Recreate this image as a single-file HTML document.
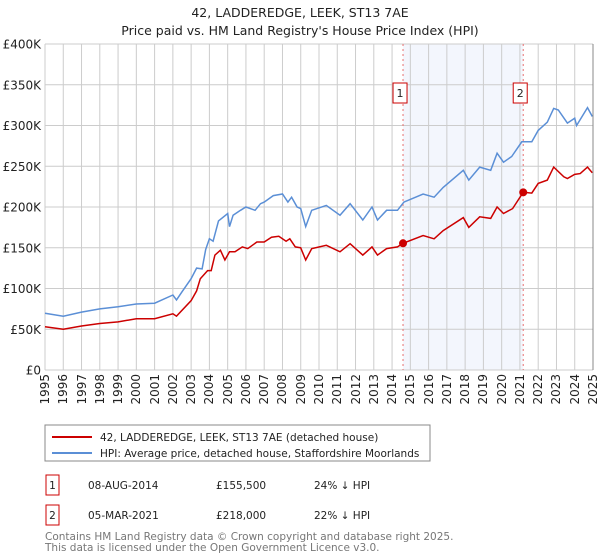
<!DOCTYPE html>
<html><head><meta charset="utf-8"><style>
body{margin:0;background:#fff;font-family:"DejaVu Sans","Liberation Sans",sans-serif;}
svg text{font-family:"DejaVu Sans","Liberation Sans",sans-serif;}
#wrap{position:relative;width:600px;height:560px;}
.xl{position:absolute;top:374px;width:14px;font-size:12px;line-height:14px;color:#222;writing-mode:vertical-rl;transform:rotate(180deg);white-space:nowrap;}
</style></head><body>
<div id="wrap">
<svg id="c" width="600" height="560" viewBox="0 0 600 560" xmlns="http://www.w3.org/2000/svg" style="position:absolute;left:0;top:0">
<text x="300" y="17" text-anchor="middle" font-size="12.5" fill="#222">42, LADDEREDGE, LEEK, ST13 7AE</text>
<text x="300" y="35" text-anchor="middle" font-size="12.5" fill="#222">Price paid vs. HM Land Registry's House Price Index (HPI)</text>
<g id="plot"></g>
<rect x="45" y="425" width="385" height="36" fill="#fff" stroke="#888"/>
<line x1="52" y1="437" x2="92" y2="437" stroke="#cc0000" stroke-width="2"/>
<text x="100" y="441" font-size="10.5" fill="#222">42, LADDEREDGE, LEEK, ST13 7AE (detached house)</text>
<line x1="52" y1="453" x2="92" y2="453" stroke="#5b8fd6" stroke-width="2"/>
<text x="100" y="457" font-size="10.5" fill="#222">HPI: Average price, detached house, Staffordshire Moorlands</text>
<rect x="46" y="475" width="13" height="20" fill="#fff" stroke="#cc0000"/>
<text x="52.5" y="489" text-anchor="middle" font-size="10.5" fill="#222">1</text>
<text x="88" y="489" font-size="10.5" fill="#222">08-AUG-2014</text>
<text x="216" y="489" font-size="10.5" fill="#222">£155,500</text>
<text x="314" y="489" font-size="10.5" fill="#222">24% ↓ HPI</text>
<rect x="46" y="505" width="13" height="20" fill="#fff" stroke="#cc0000"/>
<text x="52.5" y="519" text-anchor="middle" font-size="10.5" fill="#222">2</text>
<text x="88" y="519" font-size="10.5" fill="#222">05-MAR-2021</text>
<text x="216" y="519" font-size="10.5" fill="#222">£218,000</text>
<text x="314" y="519" font-size="10.5" fill="#222">22% ↓ HPI</text>
<text x="45" y="540" font-size="10.5" fill="#777">Contains HM Land Registry data © Crown copyright and database right 2025.</text>
<text x="45" y="551" font-size="10.5" fill="#777">This data is licensed under the Open Government Licence v3.0.</text>
</svg>
</div>
<script>
const yTicks=[0,50,100,150,200,250,300,350,400];
const yTickLabels=["£0","£50K","£100K","£150K","£200K","£250K","£300K","£350K","£400K"];
const xTicks=[1995,1996,1997,1998,1999,2000,2001,2002,2003,2004,2005,2006,2007,2008,2009,2010,2011,2012,2013,2014,2015,2016,2017,2018,2019,2020,2021,2022,2023,2024,2025];
const hpiYears=[1995,1996,1997,1998,1999,2000,2001,2002,2002.2,2002.5,2003,2003.3,2003.6,2003.8,2004,2004.2,2004.5,2005,2005.1,2005.3,2005.7,2006,2006.5,2006.8,2007,2007.5,2008,2008.3,2008.5,2008.8,2009,2009.27,2009.6,2010.4,2011.15,2011.7,2012.4,2012.9,2013.2,2013.7,2014.3,2014.65,2015.7,2016.3,2016.8,2017.9,2018.2,2018.8,2019.4,2019.75,2020.1,2020.55,2021.1,2021.65,2022,2022.5,2022.85,2023.1,2023.6,2024,2024.1,2024.7,2024.96];
const hpiValues=[69.6,66,71,75,77.7,81,82,92,86,96,112,125,124,148,161,158,183,192,176,190,196,200,196,204,206,214,216,206,212,200,198,176,196,202,190,204,184,200,184,196,196,206,216,212,224,245,233,249,245,266,255,262,280,280,294,304,321,319,303,309,300,322,311];
const ppYears=[1995,1996,1997,1998,1999,2000,2001,2002,2002.2,2003,2003.3,2003.5,2003.9,2004.1,2004.3,2004.6,2004.85,2005.1,2005.4,2005.8,2006.1,2006.6,2007,2007.4,2007.8,2008.2,2008.4,2008.7,2009,2009.27,2009.6,2010.4,2011.15,2011.7,2012.4,2012.9,2013.2,2013.7,2014.3,2014.6,2015.7,2016.3,2016.8,2017.9,2018.2,2018.8,2019.4,2019.75,2020.1,2020.6,2021.18,2021.65,2022,2022.5,2022.85,2023.4,2023.6,2024,2024.3,2024.7,2024.96];
const ppValues=[53,50,54,57,59,63,63,69,66,85,97,112,122,122,141,147,135,145,145,151,149,157,157,163,164,158,161,151,150,135,149,153,145,155,141,151,141,149,151,155.5,165,161,171,187,175,188,186,200,192,198,218,217,229,233,249,237,235,240,241,249,242];
const saleYears=[2014.6,2021.18];
const saleValues=[155.5,218];
const saleLabels=["1","2"];

const NS="http://www.w3.org/2000/svg";
const g=document.getElementById('plot');
const wrap=document.getElementById('wrap');
const X0=45,X1=593,Y0=370,Y1=44;
const sx=y=>X0+(y-1995)/(2025-1995)*(X1-X0);
const sy=v=>Y0-v/400*(Y0-Y1);
function mk(t,a,p){const e=document.createElementNS(NS,t);for(const k in a)e.setAttribute(k,a[k]);(p||g).appendChild(e);return e;}
const shade=mk('rect',{x:sx(saleYears[0]),y:Y1,width:sx(saleYears[1])-sx(saleYears[0]),height:Y0-Y1,fill:'#f3f6fd'});


xTicks.forEach(t=>{
 const l=mk('line',{x1:sx(t),x2:sx(t),y1:Y1,y2:Y0,stroke:'#ccc','stroke-width':1});
 
 
 const d=document.createElement('div');
 d.className='xl';
 d.style.left=(sx(t)-7)+'px';
 d.textContent=t;
 
 
 wrap.appendChild(d);
});
yTicks.forEach((t,i)=>{
 const l=mk('line',{x1:X0,x2:X1,y1:sy(t),y2:sy(t),stroke:'#ccc','stroke-width':1});
 
 
 const tx=mk('text',{x:41,y:sy(t)+4.5,'font-size':12,fill:'#222','text-anchor':'end'});
 tx.textContent=yTickLabels[i];
 
 
});
saleYears.forEach((y,i)=>{
 const l=mk('line',{x1:sx(y),x2:sx(y),y1:Y1,y2:Y0,stroke:'#e87070','stroke-dasharray':'2,3','stroke-width':1});
 
 
 const b=mk('rect',{x:sx(y)-10,y:83,width:14,height:20,fill:'#fff',stroke:'#cc0000'});
 
 
 const tx=mk('text',{x:sx(y)-3,y:97,'font-size':11,fill:'#222','text-anchor':'middle'});
 tx.textContent=saleLabels[i];
 
 
});
const hp=mk('path',{d:hpiYears.map((y,i)=>(i?'L':'M')+sx(y).toFixed(1)+','+sy(hpiValues[i]).toFixed(1)).join(''),fill:'none',stroke:'#5b8fd6','stroke-width':1.5});


const pp=mk('path',{d:ppYears.map((y,i)=>(i?'L':'M')+sx(y).toFixed(1)+','+sy(ppValues[i]).toFixed(1)).join(''),fill:'none',stroke:'#cc0000','stroke-width':1.5});


saleYears.forEach((y,i)=>{
 const c=mk('circle',{cx:sx(y),cy:sy(saleValues[i]),r:4,fill:'#cc0000'});
 
 
});
const ax=mk('line',{x1:X1,x2:X1,y1:Y1,y2:Y0,stroke:'#888','stroke-width':1});


</script>
</body></html>
